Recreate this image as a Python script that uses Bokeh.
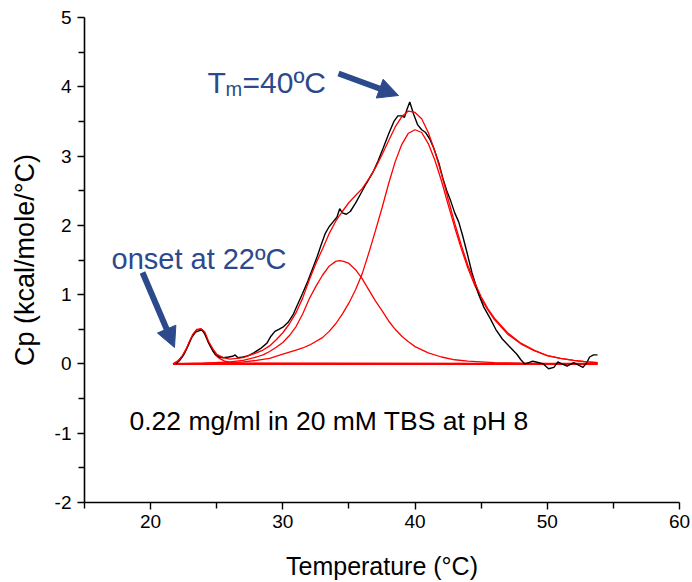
from bokeh.plotting import figure
from bokeh.models import Label, Arrow, NormalHead, FixedTicker, Range1d
from bokeh.embed import file_html
from bokeh.resources import INLINE

# ---------------- data ----------------
exp_t = [21.9, 22.2, 22.5, 22.8, 23.1, 23.4, 23.7, 23.9, 24.1, 24.4,
         24.7, 24.9, 25.2, 25.5, 25.9, 26.2, 26.4, 26.6, 27.0, 27.4,
         27.8, 28.3, 28.8, 29.1, 29.4, 29.7, 30.0, 30.4, 30.8, 31.1,
         31.5, 31.9, 32.3, 32.6, 32.9, 33.2, 33.5, 33.8, 34.1, 34.3,
         34.5, 34.8, 35.1, 35.5, 35.9, 36.3, 36.8, 37.2, 37.6, 38.0,
         38.4, 38.7, 39.0, 39.2, 39.4, 39.6, 39.9, 40.2, 40.5, 40.8,
         41.1, 41.4, 41.8, 42.1, 42.4, 42.7, 43.0, 43.3, 43.6, 43.9,
         44.3, 44.8, 45.2, 45.7, 46.1, 46.6, 47.1, 47.7, 48.0, 48.3,
         48.6, 48.9, 49.3, 49.7, 50.1, 50.5, 50.8, 51.1, 51.5, 52.0,
         52.3, 52.7, 53.0, 53.2, 53.5, 53.8]
exp_cp = [0.0, 0.05, 0.13, 0.25, 0.38, 0.46, 0.48, 0.49, 0.43, 0.3,
          0.19, 0.14, 0.1, 0.09, 0.1, 0.11, 0.13, 0.09, 0.1, 0.12,
          0.16, 0.22, 0.3, 0.4, 0.47, 0.5, 0.53, 0.6, 0.72, 0.85,
          1.02, 1.2, 1.4, 1.55, 1.72, 1.88, 1.98, 2.05, 2.12, 2.24,
          2.18, 2.16, 2.2, 2.32, 2.46, 2.6, 2.76, 2.93, 3.12, 3.32,
          3.5, 3.58, 3.58, 3.56, 3.68, 3.78, 3.6, 3.45, 3.38, 3.34,
          3.25, 3.12, 2.9, 2.68, 2.5, 2.35, 2.18, 2.05, 1.85, 1.63,
          1.32, 1.01, 0.82, 0.65, 0.5, 0.36, 0.26, 0.14, 0.06, 0.0,
          0.02, 0.04, 0.02, 0.0, -0.07, -0.05, 0.03, 0.0, -0.03, 0.02,
          -0.01, -0.05, 0.02, 0.1, 0.13, 0.13]

fit_t = [21.7, 22.1, 22.4, 22.7, 22.9, 23.2, 23.5, 23.8, 24.1, 24.4,
         24.7, 25.0, 25.5, 26, 27, 28, 28.5, 29, 29.5, 30,
         30.5, 31, 31.5, 32, 32.5, 33, 33.5, 34, 34.5, 35,
         35.5, 36, 36.5, 37, 37.5, 38, 38.5, 39, 39.5, 40,
         40.5, 41, 41.5, 42, 42.5, 43, 43.5, 44, 44.5, 45,
         45.5, 46, 47, 48, 49, 50, 51, 52, 53, 53.8]
fit_cp = [0.0, 0.05, 0.12, 0.22, 0.31, 0.43, 0.5, 0.51, 0.46, 0.32,
          0.22, 0.14, 0.09, 0.07, 0.09, 0.16, 0.2, 0.26, 0.35, 0.45,
          0.58, 0.74, 0.95, 1.21, 1.45, 1.66, 1.88, 2.06, 2.2, 2.33,
          2.43, 2.53, 2.67, 2.83, 3.02, 3.22, 3.42, 3.57, 3.65, 3.63,
          3.54, 3.34, 3.07, 2.74, 2.38, 2.03, 1.71, 1.42, 1.18, 0.97,
          0.8, 0.66, 0.45, 0.3, 0.2, 0.12, 0.08, 0.05, 0.03, 0.02]

peak1_t = [21.7, 22.1, 22.4, 22.7, 22.9, 23.2, 23.5, 23.8, 24.1, 24.4,
           24.7, 24.9, 25.2, 25.6, 26.2, 27.0, 53.8]
peak1_cp = [0.0, 0.05, 0.11, 0.21, 0.3, 0.42, 0.49, 0.5, 0.44, 0.3,
            0.19, 0.13, 0.08, 0.04, 0.02, 0.01, 0.0]

peak2_t = [21.7, 24, 26, 27, 28, 28.5, 29, 29.5, 30, 30.5,
           31, 31.5, 32, 32.5, 33, 33.5, 34, 34.3, 34.6, 35,
           35.5, 36, 36.5, 37, 37.5, 38, 38.5, 39, 39.5, 40,
           41, 42, 43, 44, 46, 48, 50, 53.8]
peak2_cp = [0.0, 0.01, 0.03, 0.05, 0.1, 0.13, 0.18, 0.24, 0.31, 0.41,
            0.54, 0.72, 0.94, 1.12, 1.28, 1.41, 1.48, 1.49, 1.48, 1.45,
            1.36, 1.23, 1.07, 0.91, 0.77, 0.62, 0.5, 0.4, 0.32, 0.25,
            0.16, 0.1, 0.06, 0.04, 0.02, 0.01, 0.005, 0.0]

peak3_t = [21.7, 25, 27, 28, 29, 30, 30.5, 31, 31.5, 32,
           33, 33.5, 34, 34.5, 35, 35.5, 36, 36.5, 37, 37.5,
           38, 38.5, 39, 39.5, 40, 40.5, 41, 41.5, 42, 42.5,
           43, 43.5, 44, 44.5, 45, 45.5, 46, 47, 48, 49,
           50, 51, 52, 53, 53.8]
peak3_cp = [0.0, 0.01, 0.03, 0.05, 0.08, 0.14, 0.17, 0.2, 0.23, 0.27,
            0.38, 0.47, 0.58, 0.72, 0.88, 1.07, 1.3, 1.6, 1.92, 2.25,
            2.6, 2.92, 3.17, 3.33, 3.38, 3.34, 3.18, 2.94, 2.64, 2.3,
            1.97, 1.66, 1.38, 1.14, 0.94, 0.78, 0.64, 0.43, 0.29, 0.19,
            0.12, 0.08, 0.05, 0.03, 0.02]

baseline_t = [21.7, 53.8]
baseline_cp = [0.0, 0.0]

x_ticks = [20, 30, 40, 50, 60]
x_tick_labels = ["20", "30", "40", "50", "60"]
x_minor = [15, 25, 35, 45, 55]
y_ticks = [-2, -1, 0, 1, 2, 3, 4, 5]
y_tick_labels = ["-2", "-1", "0", "1", "2", "3", "4", "5"]
y_minor = [-1.5, -0.5, 0.5, 1.5, 2.5, 3.5, 4.5]

X_MIN, X_MAX = 15, 60
Y_MIN, Y_MAX = -2, 5

# ---------------- layout ----------------
W, H = 692, 582
FL, FR, FT, FB = 84, 679, 17, 502  # frame edges in picture pixels
BLUE = "#2c4a8b"
FONT = "Liberation Sans"


def X(px):
    return X_MIN + (px - FL) * (X_MAX - X_MIN) / (FR - FL)


def Y(py):
    return Y_MAX - (py - FT) * (Y_MAX - Y_MIN) / (FB - FT)


p = figure(width=W, height=H, output_backend="svg", toolbar_location=None,
           x_range=Range1d(X_MIN, X_MAX), y_range=Range1d(Y_MIN, Y_MAX),
           min_border_left=FL, min_border_right=W - FR,
           min_border_top=FT, min_border_bottom=H - FB)
p.outline_line_color = None
p.xgrid.visible = False
p.ygrid.visible = False
p.background_fill_color = "white"
p.border_fill_color = "white"

for ax, ticks, minor, labels in ((p.xaxis[0], x_ticks, x_minor, x_tick_labels),
                                 (p.yaxis[0], y_ticks, y_minor, y_tick_labels)):
    ax.ticker = FixedTicker(ticks=ticks, minor_ticks=minor)
    ax.major_label_overrides = {t: l for t, l in zip(ticks, labels)}
    ax.axis_line_width = 1.6
    ax.axis_line_color = "black"
    ax.major_tick_line_width = 1.4
    ax.minor_tick_line_width = 1.4
    ax.major_tick_in = 0
    ax.major_tick_out = 7
    ax.minor_tick_in = 0
    ax.minor_tick_out = 6
    ax.major_label_text_font = FONT
    ax.major_label_text_font_size = "19px"
    ax.major_label_text_color = "black"
    ax.major_label_standoff = 6
    ax.axis_label_text_font = FONT
    ax.axis_label_text_font_style = "normal"
    ax.axis_label_text_color = "black"
p.xaxis.major_label_standoff = 5

# axis titles
p.yaxis.axis_label = "Cp (kcal/mole/°C)"
p.yaxis.axis_label_text_font_size = "27px"
p.yaxis.axis_label_standoff = 12
p.xaxis.axis_label = "Temperature (°C)"
p.xaxis.axis_label_text_font_size = "25px"
p.xaxis.axis_label_standoff = 21

# curves
p.line(baseline_t, baseline_cp, line_color="red", line_width=2.2)
p.line(peak1_t, peak1_cp, line_color="red", line_width=1.3)
p.line(peak2_t, peak2_cp, line_color="red", line_width=1.3)
p.line(peak3_t, peak3_cp, line_color="red", line_width=1.3)
p.line(exp_t, exp_cp, line_color="black", line_width=1.4)
p.line(fit_t, fit_cp, line_color="red", line_width=1.3)


def lab(text, px, py, size, color="black", align="left"):
    p.add_layout(Label(x=X(px), y=Y(py), text=text, text_font=FONT,
                       text_font_size=f"{size}px", text_color=color,
                       text_align=align, text_baseline="alphabetic"))


# annotations
lab("T", 207, 82, 30, BLUE)
lab("m", 225, 88, 20, BLUE)
lab("=40ºC", 242, 82, 30, BLUE)
lab("onset at 22ºC", 111, 258, 29, BLUE)
lab("0.22 mg/ml in 20 mM TBS at pH 8", 129, 420, 26.5)

p.add_layout(Arrow(end=NormalHead(size=20, fill_color=BLUE, line_color=BLUE),
                   x_start=X(338), y_start=Y(73), x_end=X(398), y_end=Y(95),
                   line_color=BLUE, line_width=6))
p.add_layout(Arrow(end=NormalHead(size=20, fill_color=BLUE, line_color=BLUE),
                   x_start=X(142), y_start=Y(272), x_end=X(174), y_end=Y(347),
                   line_color=BLUE, line_width=6))

open("out.html", "w").write(file_html(p, INLINE))
